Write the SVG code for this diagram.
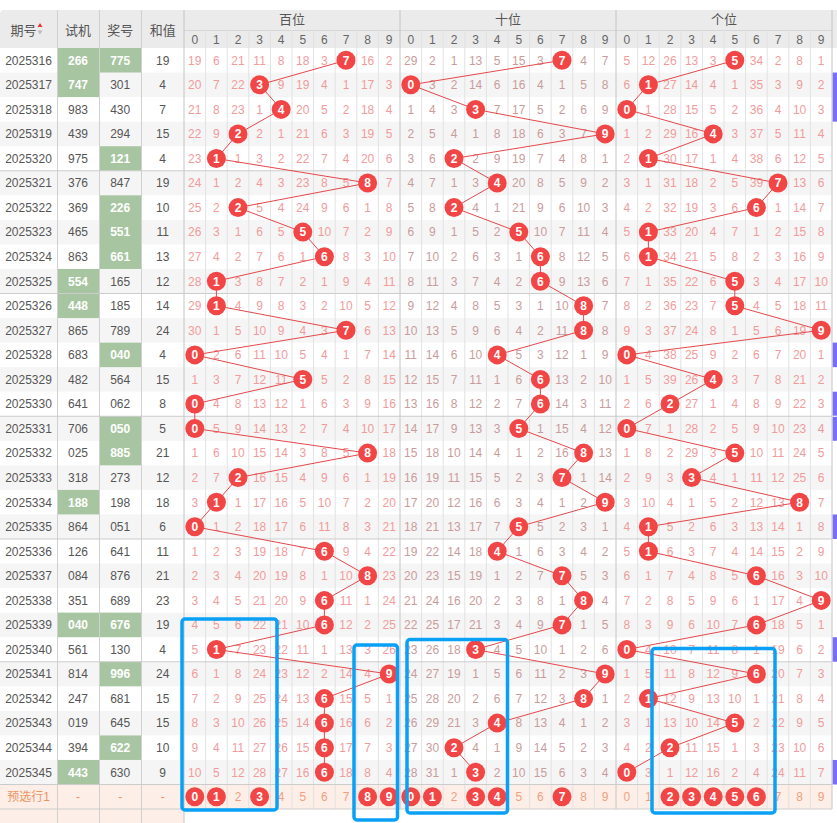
<svg xmlns="http://www.w3.org/2000/svg" width="837" height="823" viewBox="0 0 837 823">
<style>
text{font-family:"Liberation Sans","Noto Sans CJK SC",Arial,sans-serif;text-anchor:middle;font-size:12px}
.h{font-size:13px;fill:#555}
.hd{fill:#666}
.q{fill:#555}
.w{fill:#fff;font-weight:bold}
.a text{fill:#f29b9b}
.t text{fill:#c99c9c}
.ball circle{fill:#f24646}
.ball text{fill:#fff;font-weight:bold}
.p{fill:#f2a07e}
.o{fill:#f0935f}
.conn{fill:none;stroke:#e4484b;stroke-width:1}
.box{fill:none;stroke:#0aa0f5;stroke-width:3.5}
.gr{fill:#f5f5f5}
.gn{fill:#a8c5a1}
.pu{fill:#7b6ef6}
</style>
<rect x="0" y="0" width="837" height="823" fill="#fff"/>
<g id="header">
<path d="M0,48V14Q0,10 4,10H837V48Z" fill="#ebebeb"/>
<path d="M184,30.5H832" stroke="#d6d6d6" stroke-width="1"/>
<text class="h" x="23.5" y="34.5">期号</text>
<polygon points="37.5,27 42.5,27 40,23" fill="#e33"/>
<polygon points="37.5,30.5 42.5,30.5 40,34.5" fill="#bbb"/>
<text class="h" x="78" y="34.5">试机</text>
<text class="h" x="120.2" y="34.5">奖号</text>
<text class="h" x="162.7" y="34.5">和值</text>
<text class="h" x="292" y="24">百位</text>
<text class="h" x="508" y="24">十位</text>
<text class="h" x="724" y="24">个位</text>
<g class="hd">
<text class="hd" x="194.8" y="43.5">0</text><text class="hd" x="216.4" y="43.5">1</text><text class="hd" x="238" y="43.5">2</text><text class="hd" x="259.6" y="43.5">3</text><text class="hd" x="281.2" y="43.5">4</text><text class="hd" x="302.8" y="43.5">5</text><text class="hd" x="324.4" y="43.5">6</text><text class="hd" x="346" y="43.5">7</text><text class="hd" x="367.6" y="43.5">8</text><text class="hd" x="389.2" y="43.5">9</text>
<text class="hd" x="410.8" y="43.5">0</text><text class="hd" x="432.4" y="43.5">1</text><text class="hd" x="454" y="43.5">2</text><text class="hd" x="475.6" y="43.5">3</text><text class="hd" x="497.2" y="43.5">4</text><text class="hd" x="518.8" y="43.5">5</text><text class="hd" x="540.4" y="43.5">6</text><text class="hd" x="562" y="43.5">7</text><text class="hd" x="583.6" y="43.5">8</text><text class="hd" x="605.2" y="43.5">9</text>
<text class="hd" x="626.8" y="43.5">0</text><text class="hd" x="648.4" y="43.5">1</text><text class="hd" x="670" y="43.5">2</text><text class="hd" x="691.6" y="43.5">3</text><text class="hd" x="713.2" y="43.5">4</text><text class="hd" x="734.8" y="43.5">5</text><text class="hd" x="756.4" y="43.5">6</text><text class="hd" x="778" y="43.5">7</text><text class="hd" x="799.6" y="43.5">8</text><text class="hd" x="821.2" y="43.5">9</text>
</g>
</g>
<g id="backgrounds">
<rect class="gr" x="0" y="72.55" width="832" height="24.55"/>
<rect class="gr" x="0" y="121.65" width="832" height="24.55"/>
<rect class="gr" x="0" y="170.75" width="832" height="24.55"/>
<rect class="gr" x="0" y="219.85" width="832" height="24.55"/>
<rect class="gr" x="0" y="268.95" width="832" height="24.55"/>
<rect class="gr" x="0" y="318.05" width="832" height="24.55"/>
<rect class="gr" x="0" y="367.15" width="832" height="24.55"/>
<rect class="gr" x="0" y="416.25" width="832" height="24.55"/>
<rect class="gr" x="0" y="465.35" width="832" height="24.55"/>
<rect class="gr" x="0" y="514.45" width="832" height="24.55"/>
<rect class="gr" x="0" y="563.55" width="832" height="24.55"/>
<rect class="gr" x="0" y="612.65" width="832" height="24.55"/>
<rect class="gr" x="0" y="661.75" width="832" height="24.55"/>
<rect class="gr" x="0" y="710.85" width="832" height="24.55"/>
<rect class="gr" x="0" y="759.95" width="832" height="24.55"/>
<rect x="0" y="784.5" width="832" height="24.55" fill="#fdefe8"/>
<rect x="0" y="809" width="184" height="14" fill="#fdefe8"/>
<rect class="gn" x="57.5" y="48" width="42" height="49.1"/>
<rect class="gn" x="57.5" y="268.95" width="42" height="49.1"/>
<rect class="gn" x="57.5" y="489.9" width="42" height="24.55"/>
<rect class="gn" x="57.5" y="612.65" width="42" height="24.55"/>
<rect class="gn" x="57.5" y="759.95" width="42" height="24.55"/>
<rect class="gn" x="99.5" y="48" width="42" height="24.55"/>
<rect class="gn" x="99.5" y="146.2" width="42" height="24.55"/>
<rect class="gn" x="99.5" y="195.3" width="42" height="73.65"/>
<rect class="gn" x="99.5" y="342.6" width="42" height="24.55"/>
<rect class="gn" x="99.5" y="416.25" width="42" height="49.1"/>
<rect class="gn" x="99.5" y="612.65" width="42" height="24.55"/>
<rect class="gn" x="99.5" y="661.75" width="42" height="24.55"/>
<rect class="gn" x="99.5" y="735.4" width="42" height="24.55"/>
<rect class="pu" x="832.5" y="72.55" width="4.5" height="49.1"/>
<rect class="pu" x="832.5" y="342.6" width="4.5" height="24.55"/>
<rect class="pu" x="832.5" y="391.7" width="4.5" height="24"/>
<rect class="pu" x="832.5" y="416.8" width="4.5" height="24"/>
<rect class="pu" x="832.5" y="514.45" width="4.5" height="24.55"/>
<rect class="pu" x="832.5" y="637.2" width="4.5" height="24.55"/>
<rect class="pu" x="832.5" y="759.95" width="4.5" height="24.55"/>
</g>
<g id="grid" fill="none" stroke-width="1">
<path stroke="#e2e2e2" d="M205.6,30V809M227.2,30V809M248.8,30V809M270.4,30V809M292,30V809M313.6,30V809M335.2,30V809M356.8,30V809M378.4,30V809M421.6,30V809M443.2,30V809M464.8,30V809M486.4,30V809M508,30V809M529.6,30V809M551.2,30V809M572.8,30V809M594.4,30V809M637.6,30V809M659.2,30V809M680.8,30V809M702.4,30V809M724,30V809M745.6,30V809M767.2,30V809M788.8,30V809M810.4,30V809"/>
<path stroke="#d0d0d0" d="M57.5,10V823M99.5,10V823M141.5,10V823"/>
<path stroke="#c4c4c4" d="M184,10V823M400,10V809M616,10V809M832,10V809"/>
<path stroke="#cccccc" d="M0,170.75H832M0,293.5H832M0,416.25H832M0,539H832M0,661.75H832M0,784.5H832M0,809H832"/>
</g>
<g id="cells">
<g transform="translate(0,64.6)"><text class="q" x="28.5">2025316</text><text class="w" x="78">266</text><text class="w" x="120.2">775</text><text class="q" x="162.7">19</text>
<g class="a"><text x="194.8">19</text><text x="216.4">6</text><text x="238">21</text><text x="259.6">11</text><text x="281.2">8</text><text x="302.8">18</text><text x="324.4">3</text><text x="367.6">16</text><text x="389.2">2</text></g>
<g class="t"><text x="410.8">29</text><text x="432.4">2</text><text x="454">1</text><text x="475.6">13</text><text x="497.2">5</text><text x="518.8">15</text><text x="540.4">3</text><text x="583.6">4</text><text x="605.2">7</text></g>
<g class="a"><text x="626.8">5</text><text x="648.4">12</text><text x="670">26</text><text x="691.6">13</text><text x="713.2">3</text><text x="756.4">34</text><text x="778">2</text><text x="799.6">8</text><text x="821.2">1</text></g></g>
<g transform="translate(0,89.1)"><text class="q" x="28.5">2025317</text><text class="w" x="78">747</text><text class="q" x="120.2">301</text><text class="q" x="162.7">4</text>
<g class="a"><text x="194.8">20</text><text x="216.4">7</text><text x="238">22</text><text x="281.2">9</text><text x="302.8">19</text><text x="324.4">4</text><text x="346">1</text><text x="367.6">17</text><text x="389.2">3</text></g>
<g class="t"><text x="432.4">3</text><text x="454">2</text><text x="475.6">14</text><text x="497.2">6</text><text x="518.8">16</text><text x="540.4">4</text><text x="562">1</text><text x="583.6">5</text><text x="605.2">8</text></g>
<g class="a"><text x="626.8">6</text><text x="670">27</text><text x="691.6">14</text><text x="713.2">4</text><text x="734.8">1</text><text x="756.4">35</text><text x="778">3</text><text x="799.6">9</text><text x="821.2">2</text></g></g>
<g transform="translate(0,113.7)"><text class="q" x="28.5">2025318</text><text class="q" x="78">983</text><text class="q" x="120.2">430</text><text class="q" x="162.7">7</text>
<g class="a"><text x="194.8">21</text><text x="216.4">8</text><text x="238">23</text><text x="259.6">1</text><text x="302.8">20</text><text x="324.4">5</text><text x="346">2</text><text x="367.6">18</text><text x="389.2">4</text></g>
<g class="t"><text x="410.8">1</text><text x="432.4">4</text><text x="454">3</text><text x="497.2">7</text><text x="518.8">17</text><text x="540.4">5</text><text x="562">2</text><text x="583.6">6</text><text x="605.2">9</text></g>
<g class="a"><text x="648.4">1</text><text x="670">28</text><text x="691.6">15</text><text x="713.2">5</text><text x="734.8">2</text><text x="756.4">36</text><text x="778">4</text><text x="799.6">10</text><text x="821.2">3</text></g></g>
<g transform="translate(0,138.2)"><text class="q" x="28.5">2025319</text><text class="q" x="78">439</text><text class="q" x="120.2">294</text><text class="q" x="162.7">15</text>
<g class="a"><text x="194.8">22</text><text x="216.4">9</text><text x="259.6">2</text><text x="281.2">1</text><text x="302.8">21</text><text x="324.4">6</text><text x="346">3</text><text x="367.6">19</text><text x="389.2">5</text></g>
<g class="t"><text x="410.8">2</text><text x="432.4">5</text><text x="454">4</text><text x="475.6">1</text><text x="497.2">8</text><text x="518.8">18</text><text x="540.4">6</text><text x="562">3</text><text x="583.6">7</text></g>
<g class="a"><text x="626.8">1</text><text x="648.4">2</text><text x="670">29</text><text x="691.6">16</text><text x="734.8">3</text><text x="756.4">37</text><text x="778">5</text><text x="799.6">11</text><text x="821.2">4</text></g></g>
<g transform="translate(0,162.8)"><text class="q" x="28.5">2025320</text><text class="q" x="78">975</text><text class="w" x="120.2">121</text><text class="q" x="162.7">4</text>
<g class="a"><text x="194.8">23</text><text x="238">1</text><text x="259.6">3</text><text x="281.2">2</text><text x="302.8">22</text><text x="324.4">7</text><text x="346">4</text><text x="367.6">20</text><text x="389.2">6</text></g>
<g class="t"><text x="410.8">3</text><text x="432.4">6</text><text x="475.6">2</text><text x="497.2">9</text><text x="518.8">19</text><text x="540.4">7</text><text x="562">4</text><text x="583.6">8</text><text x="605.2">1</text></g>
<g class="a"><text x="626.8">2</text><text x="670">30</text><text x="691.6">17</text><text x="713.2">1</text><text x="734.8">4</text><text x="756.4">38</text><text x="778">6</text><text x="799.6">12</text><text x="821.2">5</text></g></g>
<g transform="translate(0,187.3)"><text class="q" x="28.5">2025321</text><text class="q" x="78">376</text><text class="q" x="120.2">847</text><text class="q" x="162.7">19</text>
<g class="a"><text x="194.8">24</text><text x="216.4">1</text><text x="238">2</text><text x="259.6">4</text><text x="281.2">3</text><text x="302.8">23</text><text x="324.4">8</text><text x="346">5</text><text x="389.2">7</text></g>
<g class="t"><text x="410.8">4</text><text x="432.4">7</text><text x="454">1</text><text x="475.6">3</text><text x="518.8">20</text><text x="540.4">8</text><text x="562">5</text><text x="583.6">9</text><text x="605.2">2</text></g>
<g class="a"><text x="626.8">3</text><text x="648.4">1</text><text x="670">31</text><text x="691.6">18</text><text x="713.2">2</text><text x="734.8">5</text><text x="756.4">39</text><text x="799.6">13</text><text x="821.2">6</text></g></g>
<g transform="translate(0,211.9)"><text class="q" x="28.5">2025322</text><text class="q" x="78">369</text><text class="w" x="120.2">226</text><text class="q" x="162.7">10</text>
<g class="a"><text x="194.8">25</text><text x="216.4">2</text><text x="259.6">5</text><text x="281.2">4</text><text x="302.8">24</text><text x="324.4">9</text><text x="346">6</text><text x="367.6">1</text><text x="389.2">8</text></g>
<g class="t"><text x="410.8">5</text><text x="432.4">8</text><text x="475.6">4</text><text x="497.2">1</text><text x="518.8">21</text><text x="540.4">9</text><text x="562">6</text><text x="583.6">10</text><text x="605.2">3</text></g>
<g class="a"><text x="626.8">4</text><text x="648.4">2</text><text x="670">32</text><text x="691.6">19</text><text x="713.2">3</text><text x="734.8">6</text><text x="778">1</text><text x="799.6">14</text><text x="821.2">7</text></g></g>
<g transform="translate(0,236.4)"><text class="q" x="28.5">2025323</text><text class="q" x="78">465</text><text class="w" x="120.2">551</text><text class="q" x="162.7">11</text>
<g class="a"><text x="194.8">26</text><text x="216.4">3</text><text x="238">1</text><text x="259.6">6</text><text x="281.2">5</text><text x="324.4">10</text><text x="346">7</text><text x="367.6">2</text><text x="389.2">9</text></g>
<g class="t"><text x="410.8">6</text><text x="432.4">9</text><text x="454">1</text><text x="475.6">5</text><text x="497.2">2</text><text x="540.4">10</text><text x="562">7</text><text x="583.6">11</text><text x="605.2">4</text></g>
<g class="a"><text x="626.8">5</text><text x="670">33</text><text x="691.6">20</text><text x="713.2">4</text><text x="734.8">7</text><text x="756.4">1</text><text x="778">2</text><text x="799.6">15</text><text x="821.2">8</text></g></g>
<g transform="translate(0,261)"><text class="q" x="28.5">2025324</text><text class="q" x="78">863</text><text class="w" x="120.2">661</text><text class="q" x="162.7">13</text>
<g class="a"><text x="194.8">27</text><text x="216.4">4</text><text x="238">2</text><text x="259.6">7</text><text x="281.2">6</text><text x="302.8">1</text><text x="346">8</text><text x="367.6">3</text><text x="389.2">10</text></g>
<g class="t"><text x="410.8">7</text><text x="432.4">10</text><text x="454">2</text><text x="475.6">6</text><text x="497.2">3</text><text x="518.8">1</text><text x="562">8</text><text x="583.6">12</text><text x="605.2">5</text></g>
<g class="a"><text x="626.8">6</text><text x="670">34</text><text x="691.6">21</text><text x="713.2">5</text><text x="734.8">8</text><text x="756.4">2</text><text x="778">3</text><text x="799.6">16</text><text x="821.2">9</text></g></g>
<g transform="translate(0,285.5)"><text class="q" x="28.5">2025325</text><text class="w" x="78">554</text><text class="q" x="120.2">165</text><text class="q" x="162.7">12</text>
<g class="a"><text x="194.8">28</text><text x="238">3</text><text x="259.6">8</text><text x="281.2">7</text><text x="302.8">2</text><text x="324.4">1</text><text x="346">9</text><text x="367.6">4</text><text x="389.2">11</text></g>
<g class="t"><text x="410.8">8</text><text x="432.4">11</text><text x="454">3</text><text x="475.6">7</text><text x="497.2">4</text><text x="518.8">2</text><text x="562">9</text><text x="583.6">13</text><text x="605.2">6</text></g>
<g class="a"><text x="626.8">7</text><text x="648.4">1</text><text x="670">35</text><text x="691.6">22</text><text x="713.2">6</text><text x="756.4">3</text><text x="778">4</text><text x="799.6">17</text><text x="821.2">10</text></g></g>
<g transform="translate(0,310.1)"><text class="q" x="28.5">2025326</text><text class="w" x="78">448</text><text class="q" x="120.2">185</text><text class="q" x="162.7">14</text>
<g class="a"><text x="194.8">29</text><text x="238">4</text><text x="259.6">9</text><text x="281.2">8</text><text x="302.8">3</text><text x="324.4">2</text><text x="346">10</text><text x="367.6">5</text><text x="389.2">12</text></g>
<g class="t"><text x="410.8">9</text><text x="432.4">12</text><text x="454">4</text><text x="475.6">8</text><text x="497.2">5</text><text x="518.8">3</text><text x="540.4">1</text><text x="562">10</text><text x="605.2">7</text></g>
<g class="a"><text x="626.8">8</text><text x="648.4">2</text><text x="670">36</text><text x="691.6">23</text><text x="713.2">7</text><text x="756.4">4</text><text x="778">5</text><text x="799.6">18</text><text x="821.2">11</text></g></g>
<g transform="translate(0,334.6)"><text class="q" x="28.5">2025327</text><text class="q" x="78">865</text><text class="q" x="120.2">789</text><text class="q" x="162.7">24</text>
<g class="a"><text x="194.8">30</text><text x="216.4">1</text><text x="238">5</text><text x="259.6">10</text><text x="281.2">9</text><text x="302.8">4</text><text x="324.4">3</text><text x="367.6">6</text><text x="389.2">13</text></g>
<g class="t"><text x="410.8">10</text><text x="432.4">13</text><text x="454">5</text><text x="475.6">9</text><text x="497.2">6</text><text x="518.8">4</text><text x="540.4">2</text><text x="562">11</text><text x="605.2">8</text></g>
<g class="a"><text x="626.8">9</text><text x="648.4">3</text><text x="670">37</text><text x="691.6">24</text><text x="713.2">8</text><text x="734.8">1</text><text x="756.4">5</text><text x="778">6</text><text x="799.6">19</text></g></g>
<g transform="translate(0,359.2)"><text class="q" x="28.5">2025328</text><text class="q" x="78">683</text><text class="w" x="120.2">040</text><text class="q" x="162.7">4</text>
<g class="a"><text x="216.4">2</text><text x="238">6</text><text x="259.6">11</text><text x="281.2">10</text><text x="302.8">5</text><text x="324.4">4</text><text x="346">1</text><text x="367.6">7</text><text x="389.2">14</text></g>
<g class="t"><text x="410.8">11</text><text x="432.4">14</text><text x="454">6</text><text x="475.6">10</text><text x="518.8">5</text><text x="540.4">3</text><text x="562">12</text><text x="583.6">1</text><text x="605.2">9</text></g>
<g class="a"><text x="648.4">4</text><text x="670">38</text><text x="691.6">25</text><text x="713.2">9</text><text x="734.8">2</text><text x="756.4">6</text><text x="778">7</text><text x="799.6">20</text><text x="821.2">1</text></g></g>
<g transform="translate(0,383.7)"><text class="q" x="28.5">2025329</text><text class="q" x="78">482</text><text class="q" x="120.2">564</text><text class="q" x="162.7">15</text>
<g class="a"><text x="194.8">1</text><text x="216.4">3</text><text x="238">7</text><text x="259.6">12</text><text x="281.2">11</text><text x="324.4">5</text><text x="346">2</text><text x="367.6">8</text><text x="389.2">15</text></g>
<g class="t"><text x="410.8">12</text><text x="432.4">15</text><text x="454">7</text><text x="475.6">11</text><text x="497.2">1</text><text x="518.8">6</text><text x="562">13</text><text x="583.6">2</text><text x="605.2">10</text></g>
<g class="a"><text x="626.8">1</text><text x="648.4">5</text><text x="670">39</text><text x="691.6">26</text><text x="734.8">3</text><text x="756.4">7</text><text x="778">8</text><text x="799.6">21</text><text x="821.2">2</text></g></g>
<g transform="translate(0,408.3)"><text class="q" x="28.5">2025330</text><text class="q" x="78">641</text><text class="q" x="120.2">062</text><text class="q" x="162.7">8</text>
<g class="a"><text x="216.4">4</text><text x="238">8</text><text x="259.6">13</text><text x="281.2">12</text><text x="302.8">1</text><text x="324.4">6</text><text x="346">3</text><text x="367.6">9</text><text x="389.2">16</text></g>
<g class="t"><text x="410.8">13</text><text x="432.4">16</text><text x="454">8</text><text x="475.6">12</text><text x="497.2">2</text><text x="518.8">7</text><text x="562">14</text><text x="583.6">3</text><text x="605.2">11</text></g>
<g class="a"><text x="626.8">2</text><text x="648.4">6</text><text x="691.6">27</text><text x="713.2">1</text><text x="734.8">4</text><text x="756.4">8</text><text x="778">9</text><text x="799.6">22</text><text x="821.2">3</text></g></g>
<g transform="translate(0,432.8)"><text class="q" x="28.5">2025331</text><text class="q" x="78">706</text><text class="w" x="120.2">050</text><text class="q" x="162.7">5</text>
<g class="a"><text x="216.4">5</text><text x="238">9</text><text x="259.6">14</text><text x="281.2">13</text><text x="302.8">2</text><text x="324.4">7</text><text x="346">4</text><text x="367.6">10</text><text x="389.2">17</text></g>
<g class="t"><text x="410.8">14</text><text x="432.4">17</text><text x="454">9</text><text x="475.6">13</text><text x="497.2">3</text><text x="540.4">1</text><text x="562">15</text><text x="583.6">4</text><text x="605.2">12</text></g>
<g class="a"><text x="648.4">7</text><text x="670">1</text><text x="691.6">28</text><text x="713.2">2</text><text x="734.8">5</text><text x="756.4">9</text><text x="778">10</text><text x="799.6">23</text><text x="821.2">4</text></g></g>
<g transform="translate(0,457.4)"><text class="q" x="28.5">2025332</text><text class="q" x="78">025</text><text class="w" x="120.2">885</text><text class="q" x="162.7">21</text>
<g class="a"><text x="194.8">1</text><text x="216.4">6</text><text x="238">10</text><text x="259.6">15</text><text x="281.2">14</text><text x="302.8">3</text><text x="324.4">8</text><text x="346">5</text><text x="389.2">18</text></g>
<g class="t"><text x="410.8">15</text><text x="432.4">18</text><text x="454">10</text><text x="475.6">14</text><text x="497.2">4</text><text x="518.8">1</text><text x="540.4">2</text><text x="562">16</text><text x="605.2">13</text></g>
<g class="a"><text x="626.8">1</text><text x="648.4">8</text><text x="670">2</text><text x="691.6">29</text><text x="713.2">3</text><text x="756.4">10</text><text x="778">11</text><text x="799.6">24</text><text x="821.2">5</text></g></g>
<g transform="translate(0,481.9)"><text class="q" x="28.5">2025333</text><text class="q" x="78">318</text><text class="q" x="120.2">273</text><text class="q" x="162.7">12</text>
<g class="a"><text x="194.8">2</text><text x="216.4">7</text><text x="259.6">16</text><text x="281.2">15</text><text x="302.8">4</text><text x="324.4">9</text><text x="346">6</text><text x="367.6">1</text><text x="389.2">19</text></g>
<g class="t"><text x="410.8">16</text><text x="432.4">19</text><text x="454">11</text><text x="475.6">15</text><text x="497.2">5</text><text x="518.8">2</text><text x="540.4">3</text><text x="583.6">1</text><text x="605.2">14</text></g>
<g class="a"><text x="626.8">2</text><text x="648.4">9</text><text x="670">3</text><text x="713.2">4</text><text x="734.8">1</text><text x="756.4">11</text><text x="778">12</text><text x="799.6">25</text><text x="821.2">6</text></g></g>
<g transform="translate(0,506.5)"><text class="q" x="28.5">2025334</text><text class="w" x="78">188</text><text class="q" x="120.2">198</text><text class="q" x="162.7">18</text>
<g class="a"><text x="194.8">3</text><text x="238">1</text><text x="259.6">17</text><text x="281.2">16</text><text x="302.8">5</text><text x="324.4">10</text><text x="346">7</text><text x="367.6">2</text><text x="389.2">20</text></g>
<g class="t"><text x="410.8">17</text><text x="432.4">20</text><text x="454">12</text><text x="475.6">16</text><text x="497.2">6</text><text x="518.8">3</text><text x="540.4">4</text><text x="562">1</text><text x="583.6">2</text></g>
<g class="a"><text x="626.8">3</text><text x="648.4">10</text><text x="670">4</text><text x="691.6">1</text><text x="713.2">5</text><text x="734.8">2</text><text x="756.4">12</text><text x="778">13</text><text x="821.2">7</text></g></g>
<g transform="translate(0,531)"><text class="q" x="28.5">2025335</text><text class="q" x="78">864</text><text class="q" x="120.2">051</text><text class="q" x="162.7">6</text>
<g class="a"><text x="216.4">1</text><text x="238">2</text><text x="259.6">18</text><text x="281.2">17</text><text x="302.8">6</text><text x="324.4">11</text><text x="346">8</text><text x="367.6">3</text><text x="389.2">21</text></g>
<g class="t"><text x="410.8">18</text><text x="432.4">21</text><text x="454">13</text><text x="475.6">17</text><text x="497.2">7</text><text x="540.4">5</text><text x="562">2</text><text x="583.6">3</text><text x="605.2">1</text></g>
<g class="a"><text x="626.8">4</text><text x="670">5</text><text x="691.6">2</text><text x="713.2">6</text><text x="734.8">3</text><text x="756.4">13</text><text x="778">14</text><text x="799.6">1</text><text x="821.2">8</text></g></g>
<g transform="translate(0,555.6)"><text class="q" x="28.5">2025336</text><text class="q" x="78">126</text><text class="q" x="120.2">641</text><text class="q" x="162.7">11</text>
<g class="a"><text x="194.8">1</text><text x="216.4">2</text><text x="238">3</text><text x="259.6">19</text><text x="281.2">18</text><text x="302.8">7</text><text x="346">9</text><text x="367.6">4</text><text x="389.2">22</text></g>
<g class="t"><text x="410.8">19</text><text x="432.4">22</text><text x="454">14</text><text x="475.6">18</text><text x="518.8">1</text><text x="540.4">6</text><text x="562">3</text><text x="583.6">4</text><text x="605.2">2</text></g>
<g class="a"><text x="626.8">5</text><text x="670">6</text><text x="691.6">3</text><text x="713.2">7</text><text x="734.8">4</text><text x="756.4">14</text><text x="778">15</text><text x="799.6">2</text><text x="821.2">9</text></g></g>
<g transform="translate(0,580.1)"><text class="q" x="28.5">2025337</text><text class="q" x="78">084</text><text class="q" x="120.2">876</text><text class="q" x="162.7">21</text>
<g class="a"><text x="194.8">2</text><text x="216.4">3</text><text x="238">4</text><text x="259.6">20</text><text x="281.2">19</text><text x="302.8">8</text><text x="324.4">1</text><text x="346">10</text><text x="389.2">23</text></g>
<g class="t"><text x="410.8">20</text><text x="432.4">23</text><text x="454">15</text><text x="475.6">19</text><text x="497.2">1</text><text x="518.8">2</text><text x="540.4">7</text><text x="583.6">5</text><text x="605.2">3</text></g>
<g class="a"><text x="626.8">6</text><text x="648.4">1</text><text x="670">7</text><text x="691.6">4</text><text x="713.2">8</text><text x="734.8">5</text><text x="778">16</text><text x="799.6">3</text><text x="821.2">10</text></g></g>
<g transform="translate(0,604.7)"><text class="q" x="28.5">2025338</text><text class="q" x="78">351</text><text class="q" x="120.2">689</text><text class="q" x="162.7">23</text>
<g class="a"><text x="194.8">3</text><text x="216.4">4</text><text x="238">5</text><text x="259.6">21</text><text x="281.2">20</text><text x="302.8">9</text><text x="346">11</text><text x="367.6">1</text><text x="389.2">24</text></g>
<g class="t"><text x="410.8">21</text><text x="432.4">24</text><text x="454">16</text><text x="475.6">20</text><text x="497.2">2</text><text x="518.8">3</text><text x="540.4">8</text><text x="562">1</text><text x="605.2">4</text></g>
<g class="a"><text x="626.8">7</text><text x="648.4">2</text><text x="670">8</text><text x="691.6">5</text><text x="713.2">9</text><text x="734.8">6</text><text x="756.4">1</text><text x="778">17</text><text x="799.6">4</text></g></g>
<g transform="translate(0,629.2)"><text class="q" x="28.5">2025339</text><text class="w" x="78">040</text><text class="w" x="120.2">676</text><text class="q" x="162.7">19</text>
<g class="a"><text x="194.8">4</text><text x="216.4">5</text><text x="238">6</text><text x="259.6">22</text><text x="281.2">21</text><text x="302.8">10</text><text x="346">12</text><text x="367.6">2</text><text x="389.2">25</text></g>
<g class="t"><text x="410.8">22</text><text x="432.4">25</text><text x="454">17</text><text x="475.6">21</text><text x="497.2">3</text><text x="518.8">4</text><text x="540.4">9</text><text x="583.6">1</text><text x="605.2">5</text></g>
<g class="a"><text x="626.8">8</text><text x="648.4">3</text><text x="670">9</text><text x="691.6">6</text><text x="713.2">10</text><text x="734.8">7</text><text x="778">18</text><text x="799.6">5</text><text x="821.2">1</text></g></g>
<g transform="translate(0,653.8)"><text class="q" x="28.5">2025340</text><text class="q" x="78">561</text><text class="q" x="120.2">130</text><text class="q" x="162.7">4</text>
<g class="a"><text x="194.8">5</text><text x="238">7</text><text x="259.6">23</text><text x="281.2">22</text><text x="302.8">11</text><text x="324.4">1</text><text x="346">13</text><text x="367.6">3</text><text x="389.2">26</text></g>
<g class="t"><text x="410.8">23</text><text x="432.4">26</text><text x="454">18</text><text x="497.2">4</text><text x="518.8">5</text><text x="540.4">10</text><text x="562">1</text><text x="583.6">2</text><text x="605.2">6</text></g>
<g class="a"><text x="648.4">4</text><text x="670">10</text><text x="691.6">7</text><text x="713.2">11</text><text x="734.8">8</text><text x="756.4">1</text><text x="778">19</text><text x="799.6">6</text><text x="821.2">2</text></g></g>
<g transform="translate(0,678.3)"><text class="q" x="28.5">2025341</text><text class="q" x="78">814</text><text class="w" x="120.2">996</text><text class="q" x="162.7">24</text>
<g class="a"><text x="194.8">6</text><text x="216.4">1</text><text x="238">8</text><text x="259.6">24</text><text x="281.2">23</text><text x="302.8">12</text><text x="324.4">2</text><text x="346">14</text><text x="367.6">4</text></g>
<g class="t"><text x="410.8">24</text><text x="432.4">27</text><text x="454">19</text><text x="475.6">1</text><text x="497.2">5</text><text x="518.8">6</text><text x="540.4">11</text><text x="562">2</text><text x="583.6">3</text></g>
<g class="a"><text x="626.8">1</text><text x="648.4">5</text><text x="670">11</text><text x="691.6">8</text><text x="713.2">12</text><text x="734.8">9</text><text x="778">20</text><text x="799.6">7</text><text x="821.2">3</text></g></g>
<g transform="translate(0,702.9)"><text class="q" x="28.5">2025342</text><text class="q" x="78">247</text><text class="q" x="120.2">681</text><text class="q" x="162.7">15</text>
<g class="a"><text x="194.8">7</text><text x="216.4">2</text><text x="238">9</text><text x="259.6">25</text><text x="281.2">24</text><text x="302.8">13</text><text x="346">15</text><text x="367.6">5</text><text x="389.2">1</text></g>
<g class="t"><text x="410.8">25</text><text x="432.4">28</text><text x="454">20</text><text x="475.6">2</text><text x="497.2">6</text><text x="518.8">7</text><text x="540.4">12</text><text x="562">3</text><text x="605.2">1</text></g>
<g class="a"><text x="626.8">2</text><text x="670">12</text><text x="691.6">9</text><text x="713.2">13</text><text x="734.8">10</text><text x="756.4">1</text><text x="778">21</text><text x="799.6">8</text><text x="821.2">4</text></g></g>
<g transform="translate(0,727.4)"><text class="q" x="28.5">2025343</text><text class="q" x="78">019</text><text class="q" x="120.2">645</text><text class="q" x="162.7">15</text>
<g class="a"><text x="194.8">8</text><text x="216.4">3</text><text x="238">10</text><text x="259.6">26</text><text x="281.2">25</text><text x="302.8">14</text><text x="346">16</text><text x="367.6">6</text><text x="389.2">2</text></g>
<g class="t"><text x="410.8">26</text><text x="432.4">29</text><text x="454">21</text><text x="475.6">3</text><text x="518.8">8</text><text x="540.4">13</text><text x="562">4</text><text x="583.6">1</text><text x="605.2">2</text></g>
<g class="a"><text x="626.8">3</text><text x="648.4">1</text><text x="670">13</text><text x="691.6">10</text><text x="713.2">14</text><text x="756.4">2</text><text x="778">22</text><text x="799.6">9</text><text x="821.2">5</text></g></g>
<g transform="translate(0,752)"><text class="q" x="28.5">2025344</text><text class="q" x="78">394</text><text class="w" x="120.2">622</text><text class="q" x="162.7">10</text>
<g class="a"><text x="194.8">9</text><text x="216.4">4</text><text x="238">11</text><text x="259.6">27</text><text x="281.2">26</text><text x="302.8">15</text><text x="346">17</text><text x="367.6">7</text><text x="389.2">3</text></g>
<g class="t"><text x="410.8">27</text><text x="432.4">30</text><text x="475.6">4</text><text x="497.2">1</text><text x="518.8">9</text><text x="540.4">14</text><text x="562">5</text><text x="583.6">2</text><text x="605.2">3</text></g>
<g class="a"><text x="626.8">4</text><text x="648.4">2</text><text x="691.6">11</text><text x="713.2">15</text><text x="734.8">1</text><text x="756.4">3</text><text x="778">23</text><text x="799.6">10</text><text x="821.2">6</text></g></g>
<g transform="translate(0,776.5)"><text class="q" x="28.5">2025345</text><text class="w" x="78">443</text><text class="q" x="120.2">630</text><text class="q" x="162.7">9</text>
<g class="a"><text x="194.8">10</text><text x="216.4">5</text><text x="238">12</text><text x="259.6">28</text><text x="281.2">27</text><text x="302.8">16</text><text x="346">18</text><text x="367.6">8</text><text x="389.2">4</text></g>
<g class="t"><text x="410.8">28</text><text x="432.4">31</text><text x="454">1</text><text x="497.2">2</text><text x="518.8">10</text><text x="540.4">15</text><text x="562">6</text><text x="583.6">3</text><text x="605.2">4</text></g>
<g class="a"><text x="648.4">3</text><text x="670">1</text><text x="691.6">12</text><text x="713.2">16</text><text x="734.8">2</text><text x="756.4">4</text><text x="778">24</text><text x="799.6">11</text><text x="821.2">7</text></g></g>
<g transform="translate(0,801.1)"><text class="o" x="28.5">预选行1</text><text class="o" x="78">-</text><text class="o" x="120.2">-</text><text class="o" x="162.7">-</text>
<text class="p" x="238">2</text><text class="p" x="281.2">4</text><text class="p" x="302.8">5</text><text class="p" x="324.4">6</text><text class="p" x="346">7</text>
<text class="p" x="454">2</text><text class="p" x="518.8">5</text><text class="p" x="540.4">6</text><text class="p" x="583.6">8</text><text class="p" x="605.2">9</text>
<text class="p" x="626.8">0</text><text class="p" x="648.4">1</text><text class="p" x="778">7</text><text class="p" x="799.6">8</text><text class="p" x="821.2">9</text></g>
</g>
<g id="connectors">
<polyline class="conn" points="346,60.3 259.6,84.8 281.2,109.4 238,133.9 216.4,158.5 367.6,183 238,207.6 302.8,232.1 324.4,256.7 216.4,281.2 216.4,305.8 346,330.3 194.8,354.9 302.8,379.4 194.8,404 194.8,428.5 367.6,453.1 238,477.6 216.4,502.2 194.8,526.7 324.4,551.3 367.6,575.8 324.4,600.4 324.4,624.9 216.4,649.5 389.2,674 324.4,698.6 324.4,723.1 324.4,747.7 324.4,772.2"/>
<polyline class="conn" points="562,60.3 410.8,84.8 475.6,109.4 605.2,133.9 454,158.5 497.2,183 454,207.6 518.8,232.1 540.4,256.7 540.4,281.2 583.6,305.8 583.6,330.3 497.2,354.9 540.4,379.4 540.4,404 518.8,428.5 583.6,453.1 562,477.6 605.2,502.2 518.8,526.7 497.2,551.3 562,575.8 583.6,600.4 562,624.9 475.6,649.5 605.2,674 583.6,698.6 497.2,723.1 454,747.7 475.6,772.2"/>
<polyline class="conn" points="734.8,60.3 648.4,84.8 626.8,109.4 713.2,133.9 648.4,158.5 778,183 756.4,207.6 648.4,232.1 648.4,256.7 734.8,281.2 734.8,305.8 821.2,330.3 626.8,354.9 713.2,379.4 670,404 626.8,428.5 734.8,453.1 691.6,477.6 799.6,502.2 648.4,526.7 648.4,551.3 756.4,575.8 821.2,600.4 756.4,624.9 626.8,649.5 756.4,674 648.4,698.6 734.8,723.1 670,747.7 626.8,772.2"/>
</g>
<g id="nodes">
<g id="n1b" class="ball" transform="translate(346,60.3)"><circle r="9.5"/><text y="4.3">7</text></g>
<g id="n2b" class="ball" transform="translate(259.6,84.8)"><circle r="9.5"/><text y="4.3">3</text></g>
<g id="n3b" class="ball" transform="translate(281.2,109.4)"><circle r="9.5"/><text y="4.3">4</text></g>
<g id="n4b" class="ball" transform="translate(238,133.9)"><circle r="9.5"/><text y="4.3">2</text></g>
<g id="n5b" class="ball" transform="translate(216.4,158.5)"><circle r="9.5"/><text y="4.3">1</text></g>
<g id="n6b" class="ball" transform="translate(367.6,183)"><circle r="9.5"/><text y="4.3">8</text></g>
<g id="n7b" class="ball" transform="translate(238,207.6)"><circle r="9.5"/><text y="4.3">2</text></g>
<g id="n8b" class="ball" transform="translate(302.8,232.1)"><circle r="9.5"/><text y="4.3">5</text></g>
<g id="n9b" class="ball" transform="translate(324.4,256.7)"><circle r="9.5"/><text y="4.3">6</text></g>
<g id="n10b" class="ball" transform="translate(216.4,281.2)"><circle r="9.5"/><text y="4.3">1</text></g>
<g id="n11b" class="ball" transform="translate(216.4,305.8)"><circle r="9.5"/><text y="4.3">1</text></g>
<g id="n12b" class="ball" transform="translate(346,330.3)"><circle r="9.5"/><text y="4.3">7</text></g>
<g id="n13b" class="ball" transform="translate(194.8,354.9)"><circle r="9.5"/><text y="4.3">0</text></g>
<g id="n14b" class="ball" transform="translate(302.8,379.4)"><circle r="9.5"/><text y="4.3">5</text></g>
<g id="n15b" class="ball" transform="translate(194.8,404)"><circle r="9.5"/><text y="4.3">0</text></g>
<g id="n16b" class="ball" transform="translate(194.8,428.5)"><circle r="9.5"/><text y="4.3">0</text></g>
<g id="n17b" class="ball" transform="translate(367.6,453.1)"><circle r="9.5"/><text y="4.3">8</text></g>
<g id="n18b" class="ball" transform="translate(238,477.6)"><circle r="9.5"/><text y="4.3">2</text></g>
<g id="n19b" class="ball" transform="translate(216.4,502.2)"><circle r="9.5"/><text y="4.3">1</text></g>
<g id="n20b" class="ball" transform="translate(194.8,526.7)"><circle r="9.5"/><text y="4.3">0</text></g>
<g id="n21b" class="ball" transform="translate(324.4,551.3)"><circle r="9.5"/><text y="4.3">6</text></g>
<g id="n22b" class="ball" transform="translate(367.6,575.8)"><circle r="9.5"/><text y="4.3">8</text></g>
<g id="n23b" class="ball" transform="translate(324.4,600.4)"><circle r="9.5"/><text y="4.3">6</text></g>
<g id="n24b" class="ball" transform="translate(324.4,624.9)"><circle r="9.5"/><text y="4.3">6</text></g>
<g id="n25b" class="ball" transform="translate(216.4,649.5)"><circle r="9.5"/><text y="4.3">1</text></g>
<g id="n26b" class="ball" transform="translate(389.2,674)"><circle r="9.5"/><text y="4.3">9</text></g>
<g id="n27b" class="ball" transform="translate(324.4,698.6)"><circle r="9.5"/><text y="4.3">6</text></g>
<g id="n28b" class="ball" transform="translate(324.4,723.1)"><circle r="9.5"/><text y="4.3">6</text></g>
<g id="n29b" class="ball" transform="translate(324.4,747.7)"><circle r="9.5"/><text y="4.3">6</text></g>
<g id="n30b" class="ball" transform="translate(324.4,772.2)"><circle r="9.5"/><text y="4.3">6</text></g>
<g id="n1s" class="ball" transform="translate(562,60.3)"><circle r="9.5"/><text y="4.3">7</text></g>
<g id="n2s" class="ball" transform="translate(410.8,84.8)"><circle r="9.5"/><text y="4.3">0</text></g>
<g id="n3s" class="ball" transform="translate(475.6,109.4)"><circle r="9.5"/><text y="4.3">3</text></g>
<g id="n4s" class="ball" transform="translate(605.2,133.9)"><circle r="9.5"/><text y="4.3">9</text></g>
<g id="n5s" class="ball" transform="translate(454,158.5)"><circle r="9.5"/><text y="4.3">2</text></g>
<g id="n6s" class="ball" transform="translate(497.2,183)"><circle r="9.5"/><text y="4.3">4</text></g>
<g id="n7s" class="ball" transform="translate(454,207.6)"><circle r="9.5"/><text y="4.3">2</text></g>
<g id="n8s" class="ball" transform="translate(518.8,232.1)"><circle r="9.5"/><text y="4.3">5</text></g>
<g id="n9s" class="ball" transform="translate(540.4,256.7)"><circle r="9.5"/><text y="4.3">6</text></g>
<g id="n10s" class="ball" transform="translate(540.4,281.2)"><circle r="9.5"/><text y="4.3">6</text></g>
<g id="n11s" class="ball" transform="translate(583.6,305.8)"><circle r="9.5"/><text y="4.3">8</text></g>
<g id="n12s" class="ball" transform="translate(583.6,330.3)"><circle r="9.5"/><text y="4.3">8</text></g>
<g id="n13s" class="ball" transform="translate(497.2,354.9)"><circle r="9.5"/><text y="4.3">4</text></g>
<g id="n14s" class="ball" transform="translate(540.4,379.4)"><circle r="9.5"/><text y="4.3">6</text></g>
<g id="n15s" class="ball" transform="translate(540.4,404)"><circle r="9.5"/><text y="4.3">6</text></g>
<g id="n16s" class="ball" transform="translate(518.8,428.5)"><circle r="9.5"/><text y="4.3">5</text></g>
<g id="n17s" class="ball" transform="translate(583.6,453.1)"><circle r="9.5"/><text y="4.3">8</text></g>
<g id="n18s" class="ball" transform="translate(562,477.6)"><circle r="9.5"/><text y="4.3">7</text></g>
<g id="n19s" class="ball" transform="translate(605.2,502.2)"><circle r="9.5"/><text y="4.3">9</text></g>
<g id="n20s" class="ball" transform="translate(518.8,526.7)"><circle r="9.5"/><text y="4.3">5</text></g>
<g id="n21s" class="ball" transform="translate(497.2,551.3)"><circle r="9.5"/><text y="4.3">4</text></g>
<g id="n22s" class="ball" transform="translate(562,575.8)"><circle r="9.5"/><text y="4.3">7</text></g>
<g id="n23s" class="ball" transform="translate(583.6,600.4)"><circle r="9.5"/><text y="4.3">8</text></g>
<g id="n24s" class="ball" transform="translate(562,624.9)"><circle r="9.5"/><text y="4.3">7</text></g>
<g id="n25s" class="ball" transform="translate(475.6,649.5)"><circle r="9.5"/><text y="4.3">3</text></g>
<g id="n26s" class="ball" transform="translate(605.2,674)"><circle r="9.5"/><text y="4.3">9</text></g>
<g id="n27s" class="ball" transform="translate(583.6,698.6)"><circle r="9.5"/><text y="4.3">8</text></g>
<g id="n28s" class="ball" transform="translate(497.2,723.1)"><circle r="9.5"/><text y="4.3">4</text></g>
<g id="n29s" class="ball" transform="translate(454,747.7)"><circle r="9.5"/><text y="4.3">2</text></g>
<g id="n30s" class="ball" transform="translate(475.6,772.2)"><circle r="9.5"/><text y="4.3">3</text></g>
<g id="n1g" class="ball" transform="translate(734.8,60.3)"><circle r="9.5"/><text y="4.3">5</text></g>
<g id="n2g" class="ball" transform="translate(648.4,84.8)"><circle r="9.5"/><text y="4.3">1</text></g>
<g id="n3g" class="ball" transform="translate(626.8,109.4)"><circle r="9.5"/><text y="4.3">0</text></g>
<g id="n4g" class="ball" transform="translate(713.2,133.9)"><circle r="9.5"/><text y="4.3">4</text></g>
<g id="n5g" class="ball" transform="translate(648.4,158.5)"><circle r="9.5"/><text y="4.3">1</text></g>
<g id="n6g" class="ball" transform="translate(778,183)"><circle r="9.5"/><text y="4.3">7</text></g>
<g id="n7g" class="ball" transform="translate(756.4,207.6)"><circle r="9.5"/><text y="4.3">6</text></g>
<g id="n8g" class="ball" transform="translate(648.4,232.1)"><circle r="9.5"/><text y="4.3">1</text></g>
<g id="n9g" class="ball" transform="translate(648.4,256.7)"><circle r="9.5"/><text y="4.3">1</text></g>
<g id="n10g" class="ball" transform="translate(734.8,281.2)"><circle r="9.5"/><text y="4.3">5</text></g>
<g id="n11g" class="ball" transform="translate(734.8,305.8)"><circle r="9.5"/><text y="4.3">5</text></g>
<g id="n12g" class="ball" transform="translate(821.2,330.3)"><circle r="9.5"/><text y="4.3">9</text></g>
<g id="n13g" class="ball" transform="translate(626.8,354.9)"><circle r="9.5"/><text y="4.3">0</text></g>
<g id="n14g" class="ball" transform="translate(713.2,379.4)"><circle r="9.5"/><text y="4.3">4</text></g>
<g id="n15g" class="ball" transform="translate(670,404)"><circle r="9.5"/><text y="4.3">2</text></g>
<g id="n16g" class="ball" transform="translate(626.8,428.5)"><circle r="9.5"/><text y="4.3">0</text></g>
<g id="n17g" class="ball" transform="translate(734.8,453.1)"><circle r="9.5"/><text y="4.3">5</text></g>
<g id="n18g" class="ball" transform="translate(691.6,477.6)"><circle r="9.5"/><text y="4.3">3</text></g>
<g id="n19g" class="ball" transform="translate(799.6,502.2)"><circle r="9.5"/><text y="4.3">8</text></g>
<g id="n20g" class="ball" transform="translate(648.4,526.7)"><circle r="9.5"/><text y="4.3">1</text></g>
<g id="n21g" class="ball" transform="translate(648.4,551.3)"><circle r="9.5"/><text y="4.3">1</text></g>
<g id="n22g" class="ball" transform="translate(756.4,575.8)"><circle r="9.5"/><text y="4.3">6</text></g>
<g id="n23g" class="ball" transform="translate(821.2,600.4)"><circle r="9.5"/><text y="4.3">9</text></g>
<g id="n24g" class="ball" transform="translate(756.4,624.9)"><circle r="9.5"/><text y="4.3">6</text></g>
<g id="n25g" class="ball" transform="translate(626.8,649.5)"><circle r="9.5"/><text y="4.3">0</text></g>
<g id="n26g" class="ball" transform="translate(756.4,674)"><circle r="9.5"/><text y="4.3">6</text></g>
<g id="n27g" class="ball" transform="translate(648.4,698.6)"><circle r="9.5"/><text y="4.3">1</text></g>
<g id="n28g" class="ball" transform="translate(734.8,723.1)"><circle r="9.5"/><text y="4.3">5</text></g>
<g id="n29g" class="ball" transform="translate(670,747.7)"><circle r="9.5"/><text y="4.3">2</text></g>
<g id="n30g" class="ball" transform="translate(626.8,772.2)"><circle r="9.5"/><text y="4.3">0</text></g>
<g id="p-b0" class="ball" transform="translate(194.8,796.8)"><circle r="9.5"/><text y="4.3">0</text></g>
<g id="p-b1" class="ball" transform="translate(216.4,796.8)"><circle r="9.5"/><text y="4.3">1</text></g>
<g id="p-b3" class="ball" transform="translate(259.6,796.8)"><circle r="9.5"/><text y="4.3">3</text></g>
<g id="p-b8" class="ball" transform="translate(367.6,796.8)"><circle r="9.5"/><text y="4.3">8</text></g>
<g id="p-b9" class="ball" transform="translate(389.2,796.8)"><circle r="9.5"/><text y="4.3">9</text></g>
<g id="p-s0" class="ball" transform="translate(410.8,796.8)"><circle r="9.5"/><text y="4.3">0</text></g>
<g id="p-s1" class="ball" transform="translate(432.4,796.8)"><circle r="9.5"/><text y="4.3">1</text></g>
<g id="p-s3" class="ball" transform="translate(475.6,796.8)"><circle r="9.5"/><text y="4.3">3</text></g>
<g id="p-s4" class="ball" transform="translate(497.2,796.8)"><circle r="9.5"/><text y="4.3">4</text></g>
<g id="p-s7" class="ball" transform="translate(562,796.8)"><circle r="9.5"/><text y="4.3">7</text></g>
<g id="p-g2" class="ball" transform="translate(670,796.8)"><circle r="9.5"/><text y="4.3">2</text></g>
<g id="p-g3" class="ball" transform="translate(691.6,796.8)"><circle r="9.5"/><text y="4.3">3</text></g>
<g id="p-g4" class="ball" transform="translate(713.2,796.8)"><circle r="9.5"/><text y="4.3">4</text></g>
<g id="p-g5" class="ball" transform="translate(734.8,796.8)"><circle r="9.5"/><text y="4.3">5</text></g>
<g id="p-g6" class="ball" transform="translate(756.4,796.8)"><circle r="9.5"/><text y="4.3">6</text></g>
</g>
<g id="highlights">
<rect class="box" x="182" y="619" width="95" height="191" rx="3"/>
<rect class="box" x="354" y="645" width="43.5" height="175" rx="3"/>
<rect class="box" x="407" y="639.5" width="100.5" height="173.5" rx="3"/>
<rect class="box" x="652" y="648.5" width="123" height="164.5" rx="3"/>
</g>
</svg>
